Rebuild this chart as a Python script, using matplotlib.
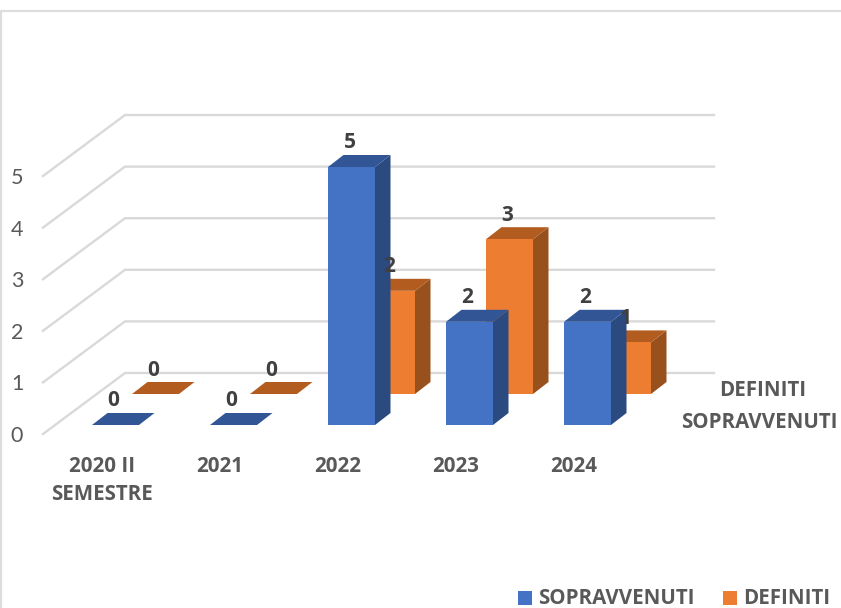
import matplotlib
matplotlib.use('Agg')
import matplotlib.pyplot as plt
from matplotlib.patches import Polygon, Rectangle

plt.rcParams['font.family'] = ['Open Sans', 'DejaVu Sans']

# data
categories = ['2020 II\nSEMESTRE', '2021', '2022', '2023', '2024']
sopravvenuti = [0, 0, 5, 2, 2]
definiti = [0, 0, 2, 3, 1]
y_ticks = [0, 1, 2, 3, 4, 5]

W, H = 841, 608
# pixels for one category / one unit, origin = left bottom of first blue bar
UX, UY = 118.0, 51.6
X0, Y0 = 92.0, 425.0

BAR_W = 47 / UX
DEPTH_X, DEPTH_Y = 15.5 / UX, 12 / UY
SER_X, SER_Y = 40 / UX, 31 / UY

BLUE = ('#4472C4', '#2B4A80', '#325596')
ORANGE = ('#ED7D31', '#98501C', '#B35C20')
GRID = '#D9D9D9'
TXT = '#595959'
LABEL = '#404040'
BOLD_SIZE = 14.8

fig = plt.figure(figsize=(W / 100, H / 100), dpi=100, facecolor='white')

# overlay in pixels for frame, tick text and legend (sits below the bars)
px = fig.add_axes([0, 0, 1, 1], facecolor='none', zorder=1)
px.set_xlim(0, W)
px.set_ylim(H, 0)
px.axis('off')

ax = fig.add_axes([0, 0, 1, 1], facecolor='none', zorder=2)
ax.set_xlim(-X0 / UX, (W - X0) / UX)
ax.set_ylim((Y0 - H) / UY, Y0 / UY)
ax.axis('off')


def draw_bar(i, value, off_x, off_y, colors, z):
    x = i + off_x
    y0 = off_y
    y1 = off_y + value
    front, side, top = colors
    if value > 0:
        ax.add_patch(Polygon([(x, y0), (x + BAR_W, y0), (x + BAR_W, y1), (x, y1)],
                             facecolor=front, edgecolor='none', zorder=z + 0.2))
        ax.add_patch(Polygon([(x + BAR_W, y0), (x + BAR_W + DEPTH_X, y0 + DEPTH_Y),
                              (x + BAR_W + DEPTH_X, y1 + DEPTH_Y), (x + BAR_W, y1)],
                             facecolor=side, edgecolor='none', zorder=z + 0.1))
    ax.add_patch(Polygon([(x, y1), (x + BAR_W, y1), (x + BAR_W + DEPTH_X, y1 + DEPTH_Y),
                          (x + DEPTH_X, y1 + DEPTH_Y)],
                         facecolor=top, edgecolor='none', zorder=z + 0.1))
    ax.text(x + 21.5 / UX, y1 + 24 / UY, str(value), fontsize=15, fontweight='bold',
            color=LABEL, ha='center', va='center', zorder=20)


# walls gridlines
for t in y_ticks:
    yy = t * UY
    px.plot([43, 125, 714], [434 - yy, 373 - yy, 373 - yy], color=GRID, lw=1.7,
            solid_joinstyle='miter', zorder=1)
    px.text(17, 436 - yy, str(t), fontsize=15.5, color=TXT, ha='center', va='center',
            family=['Lato', 'DejaVu Sans'])

# frame of the picture
px.plot([1.5, 1.5, W], [H, 10.5, 10.5], color='#DDDDDD', lw=1.6, zorder=1)

# back row first, then front row
for i in range(len(categories)):
    draw_bar(i, definiti[i], SER_X, SER_Y, ORANGE, 3 + i)
for i in range(len(categories)):
    draw_bar(i, sopravvenuti[i], 0, 0, BLUE, 10 + i)

# category labels
for i, lab in enumerate(categories):
    for j, line in enumerate(lab.split('\n')):
        px.text(X0 + UX * i + 10, 467 + 28 * j, line, fontsize=BOLD_SIZE,
                fontweight='bold', color=TXT, ha='center', va='center')

# series labels on depth axis
px.text(763, 390, 'DEFINITI', fontsize=BOLD_SIZE, fontweight='bold', color=TXT,
        ha='center', va='center')
px.text(759, 422, 'SOPRAVVENUTI', fontsize=BOLD_SIZE, fontweight='bold', color=TXT,
        ha='center', va='center')

# legend
px.add_patch(Rectangle((518, 591), 14, 14, facecolor=BLUE[0], edgecolor='none'))
px.text(538, 599, 'SOPRAVVENUTI', fontsize=BOLD_SIZE, fontweight='bold', color=TXT,
        ha='left', va='center')
px.add_patch(Rectangle((723, 591), 14, 14, facecolor=ORANGE[0], edgecolor='none'))
px.text(743, 599, 'DEFINITI', fontsize=BOLD_SIZE, fontweight='bold', color=TXT,
        ha='left', va='center')

fig.savefig('out.png', dpi=100, facecolor='white')
